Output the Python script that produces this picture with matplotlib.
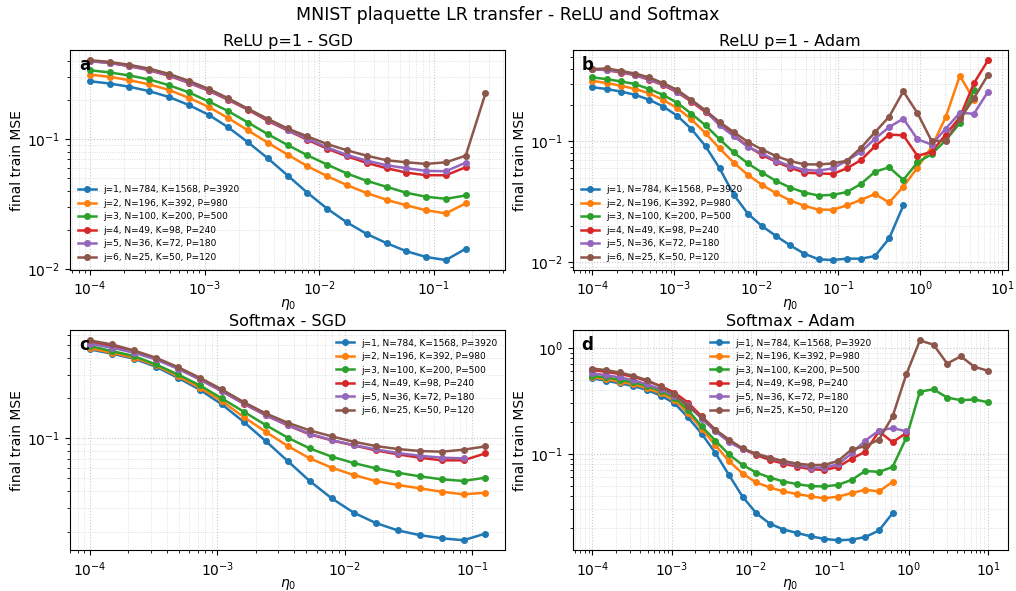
import matplotlib
matplotlib.use("Agg")
import matplotlib.pyplot as plt
import numpy as np

# learning-rate sweep (log grid, 30 points)
eta = [1.0e-4, 1.487e-4, 2.212e-4, 3.290e-4, 4.894e-4, 7.279e-4, 1.083e-3,
       1.610e-3, 2.395e-3, 3.562e-3, 5.298e-3, 7.880e-3, 1.172e-2, 1.743e-2,
       2.593e-2, 3.857e-2, 5.736e-2, 8.532e-2, 0.1269, 0.1887, 0.2807, 0.4175,
       0.6210, 0.9237, 1.374, 2.043, 3.039, 4.520, 6.723, 10.0]

labels = ["j=1, N=784, K=1568, P=3920",
          "j=2, N=196, K=392, P=980",
          "j=3, N=100, K=200, P=500",
          "j=4, N=49, K=98, P=240",
          "j=5, N=36, K=72, P=180",
          "j=6, N=25, K=50, P=120"]

# a: ReLU p=1 - SGD
relu_sgd = [
    [0.279, 0.268, 0.253, 0.234, 0.211, 0.183, 0.154, 0.123, 0.0943, 0.0711, 0.0524,
     0.0386, 0.0291, 0.0228, 0.0186, 0.0158, 0.0137, 0.01236, 0.01172, 0.0143],
    [0.314, 0.302, 0.284, 0.264, 0.239, 0.208, 0.177, 0.145, 0.1165, 0.0937, 0.0759,
     0.0618, 0.0518, 0.0442, 0.0384, 0.0341, 0.0309, 0.0283, 0.0268, 0.0320],
    [0.339, 0.326, 0.309, 0.288, 0.260, 0.229, 0.195, 0.164, 0.134, 0.109, 0.0900,
     0.0750, 0.0636, 0.0543, 0.0477, 0.0429, 0.0386, 0.0360, 0.0347, 0.0368],
    [0.400, 0.386, 0.364, 0.339, 0.307, 0.271, 0.236, 0.200, 0.168, 0.138, 0.1165,
     0.0988, 0.0843, 0.0737, 0.0655, 0.0597, 0.0552, 0.0527, 0.0527, 0.0607],
    [0.397, 0.386, 0.366, 0.341, 0.311, 0.273, 0.239, 0.202, 0.170, 0.1406, 0.118,
     0.1006, 0.0863, 0.0755, 0.0683, 0.0629, 0.0597, 0.0569, 0.0566, 0.0659],
    [0.405, 0.393, 0.373, 0.349, 0.318, 0.281, 0.244, 0.206, 0.171, 0.143, 0.1207,
     0.1048, 0.0916, 0.0819, 0.0745, 0.0687, 0.0663, 0.0644, 0.0663, 0.0745, 0.225],
]

# b: ReLU p=1 - Adam
relu_adam = [
    [0.280, 0.271, 0.258, 0.243, 0.221, 0.194, 0.1625, 0.1263, 0.0910, 0.0596, 0.0360,
     0.0251, 0.0198, 0.0164, 0.0137, 0.0117, 0.01052, 0.01038, 0.01065, 0.01065, 0.0112,
     0.0157, 0.0294],
    [0.317, 0.303, 0.289, 0.271, 0.250, 0.220, 0.188, 0.152, 0.1164, 0.0871, 0.0664,
     0.0526, 0.0435, 0.0371, 0.0323, 0.0292, 0.0271, 0.0271, 0.0294, 0.0327, 0.0365,
     0.0311, 0.0421, 0.0604, 0.0898, 0.158, 0.349, 0.220],
    [0.338, 0.327, 0.313, 0.298, 0.271, 0.242, 0.208, 0.169, 0.1354, 0.1038, 0.0807,
     0.0655, 0.0549, 0.0469, 0.0413, 0.0376, 0.0355, 0.0360, 0.0379, 0.0443, 0.0560,
     0.0608, 0.0478, 0.0668, 0.0782, 0.1019, 0.1415, 0.266],
    [0.396, 0.388, 0.371, 0.353, 0.323, 0.292, 0.254, 0.213, 0.174, 0.1415, 0.112,
     0.0910, 0.0767, 0.0676, 0.0604, 0.0549, 0.0542, 0.0536, 0.0596, 0.0698, 0.0910,
     0.1135, 0.112, 0.0757, 0.0817, 0.1135, 0.158, 0.303, 0.469],
    [0.396, 0.388, 0.376, 0.355, 0.327, 0.296, 0.258, 0.217, 0.178, 0.1354, 0.110,
     0.0898, 0.0792, 0.0689, 0.0623, 0.0578, 0.0571, 0.0596, 0.0689, 0.0817, 0.1052,
     0.131, 0.154, 0.1038, 0.0939, 0.127, 0.172, 0.169, 0.258],
    [0.396, 0.401, 0.383, 0.364, 0.338, 0.303, 0.266, 0.220, 0.180, 0.144, 0.119,
     0.0987, 0.0854, 0.0753, 0.0685, 0.0643, 0.0643, 0.0655, 0.0689, 0.0882, 0.119,
     0.160, 0.259, 0.171, 0.1006, 0.1006, 0.152, 0.228, 0.355],
]

# c: Softmax - SGD
soft_sgd = [
    [0.465, 0.432, 0.396, 0.345, 0.285, 0.232, 0.180, 0.133, 0.0955, 0.0676, 0.0479,
     0.0355, 0.0277, 0.0232, 0.0204, 0.0188, 0.0178, 0.0172, 0.0193],
    [0.473, 0.439, 0.403, 0.353, 0.293, 0.240, 0.1905, 0.1445, 0.1122, 0.0876, 0.0708,
     0.0603, 0.0531, 0.0479, 0.0447, 0.0422, 0.0398, 0.0380, 0.0391],
    [0.493, 0.452, 0.415, 0.359, 0.302, 0.250, 0.1995, 0.1585, 0.1259, 0.1012, 0.0841,
     0.0729, 0.0653, 0.0596, 0.0553, 0.0519, 0.0493, 0.0479, 0.0507],
    [0.528, 0.493, 0.447, 0.396, 0.335, 0.277, 0.226, 0.182, 0.1488, 0.1252, 0.1072,
     0.0966, 0.0886, 0.0813, 0.0759, 0.0716, 0.0684, 0.0684, 0.0772],
    [0.513, 0.479, 0.439, 0.391, 0.333, 0.277, 0.226, 0.183, 0.1496, 0.1259, 0.1084,
     0.0972, 0.0891, 0.0827, 0.0776, 0.0741, 0.0716, 0.0708],
    [0.543, 0.507, 0.457, 0.403, 0.343, 0.285, 0.233, 0.187, 0.154, 0.131, 0.1148,
     0.1035, 0.0944, 0.0876, 0.0832, 0.0804, 0.0794, 0.0822, 0.0871],
]

# d: Softmax - Adam
soft_adam = [
    [0.516, 0.491, 0.463, 0.437, 0.401, 0.355, 0.301, 0.221, 0.155, 0.1021, 0.0631,
     0.0393, 0.0274, 0.0218, 0.0192, 0.0178, 0.01655, 0.01563, 0.0152, 0.0154, 0.0163,
     0.0188, 0.0274],
    [0.527, 0.509, 0.480, 0.453, 0.416, 0.373, 0.323, 0.242, 0.1728, 0.1206, 0.0854,
     0.0649, 0.0535, 0.0480, 0.0440, 0.0416, 0.0395, 0.0379, 0.0393, 0.0425, 0.0456,
     0.0440, 0.0542],
    [0.546, 0.527, 0.501, 0.473, 0.437, 0.392, 0.340, 0.260, 0.1817, 0.1334, 0.0986,
     0.0783, 0.0664, 0.0596, 0.0546, 0.0516, 0.0494, 0.0491, 0.0508, 0.0566, 0.0688,
     0.0673, 0.0750, 0.1413, 0.387, 0.407, 0.340, 0.321, 0.326, 0.307],
    [0.618, 0.596, 0.567, 0.535, 0.487, 0.437, 0.379, 0.305, 0.2256, 0.169, 0.1334,
     0.1114, 0.0972, 0.0873, 0.0806, 0.0755, 0.0713, 0.0703, 0.0750, 0.0898, 0.1044,
     0.163, 0.1286, 0.157],
    [0.575, 0.554, 0.527, 0.497, 0.453, 0.407, 0.355, 0.290, 0.2145, 0.163, 0.1296,
     0.1099, 0.100, 0.0918, 0.0835, 0.0778, 0.0739, 0.0739, 0.0794, 0.1007, 0.1334,
     0.1655, 0.175, 0.163],
    [0.640, 0.618, 0.587, 0.546, 0.497, 0.431, 0.365, 0.280, 0.222, 0.169, 0.1362,
     0.1122, 0.100, 0.0918, 0.0854, 0.0806, 0.0783, 0.0783, 0.0854, 0.1099, 0.118,
     0.1362, 0.2256, 0.562, 1.180, 1.075, 0.713, 0.835, 0.664, 0.609],
]

panels = [
    ("a", "ReLU p=1 - SGD", relu_sgd, "lower left"),
    ("b", "ReLU p=1 - Adam", relu_adam, "lower left"),
    ("c", "Softmax - SGD", soft_sgd, "upper right"),
    ("d", "Softmax - Adam", soft_adam, "upper center"),
]

fig, axes = plt.subplots(2, 2, figsize=(10.16, 5.91), dpi=100)
fig.subplots_adjust(left=0.069, right=0.992, top=0.915, bottom=0.069,
                    wspace=0.155, hspace=0.275)
for ax, (letter, title, series, loc) in zip(axes.flat, panels):
    for i, ys in enumerate(series):
        ax.plot(eta[:len(ys)], ys, "o-", ms=4, lw=1.8, label=labels[i])
    ax.set_xscale("log")
    ax.set_yscale("log")
    ax.grid(True, which="major", ls=":", color="#c8c8c8", lw=0.8)
    ax.grid(True, which="minor", ls=":", color="#d8d8d8", lw=0.6)
    ax.set_title(title, fontsize=11.5, pad=3)
    ax.set_xlabel(r"$\eta_0$", labelpad=-1)
    ax.set_ylabel("final train MSE", labelpad=2)
    ax.text(0.02, 0.975, letter, transform=ax.transAxes, fontsize=12,
            fontweight="bold", va="top", ha="left")
    ax.legend(loc=loc, fontsize=6.5, frameon=False)

fig.suptitle("MNIST plaquette LR transfer - ReLU and Softmax", fontsize=12.5, y=0.99)
fig.savefig("out.png")
